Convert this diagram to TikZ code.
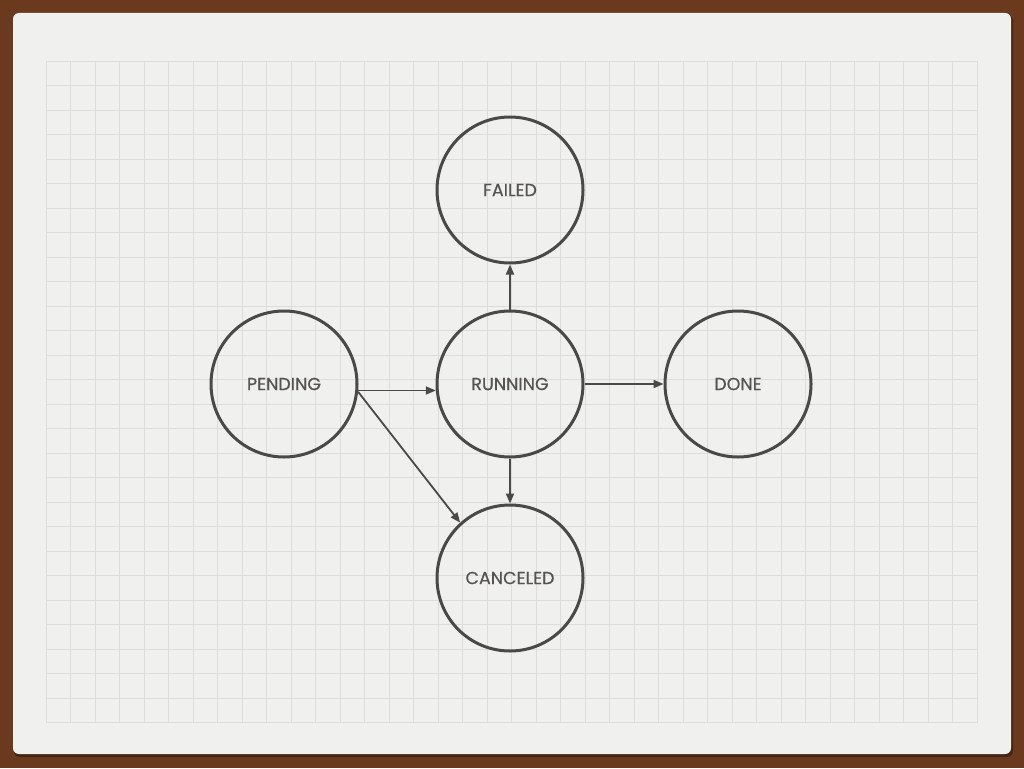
\documentclass[tikz,border=0pt]{standalone}
\usepackage{fontspec}
\setmainfont{Poppins}[FakeBold=0.5]
\usetikzlibrary{arrows.meta}
\definecolor{wood}{HTML}{6B3A1E}
\definecolor{paper}{HTML}{F0F0EE}
\definecolor{gridc}{HTML}{DCDCD8}
\definecolor{ink}{HTML}{4A4947}
\definecolor{txt}{HTML}{555452}
\tikzset{
  state/.style={circle, draw=ink, line width=3pt, minimum size=146pt, inner sep=0pt,
    font=\fontsize{17.5}{19}\selectfont, text=txt},
  arr/.style={draw=ink, line width=1.8pt, -{Triangle[length=10pt,width=8pt]}},
  gridline/.style={draw=gridc, line width=1pt}
}
\begin{document}
\begin{tikzpicture}[x=1pt,y=-1pt]
\useasboundingbox (0,0) rectangle (1024,768);
\fill[wood] (0,0) rectangle (1024,768);
\fill[black, opacity=0.35, rounded corners=6pt] (14,15) rectangle (1013,757);
\fill[paper, rounded corners=6pt] (13,13) rectangle (1011,754);
\foreach \i in {0,...,38} { \draw[gridline] ({46+24.5*\i},61) -- ({46+24.5*\i},722.5); }
\foreach \j in {0,...,27} { \draw[gridline] (46,{61+24.5*\j}) -- (977,{61+24.5*\j}); }
\node[state] (failed) at (510,190) {FAILED};
\node[state] (pending) at (284,384) {PENDING};
\node[state] (running) at (510,384) {RUNNING};
\node[state] (done) at (738,384) {DONE};
\node[state] (canceled) at (510,578) {CANCELED};
\draw[arr] (pending.-5) -- (running.185);
\draw[arr] (pending.-6) -- (canceled.132);
\draw[arr] (running.north) -- (failed.south);
\draw[arr] (running.east) -- (done.west);
\draw[arr] (running.south) -- (canceled.north);
\end{tikzpicture}
\end{document}
